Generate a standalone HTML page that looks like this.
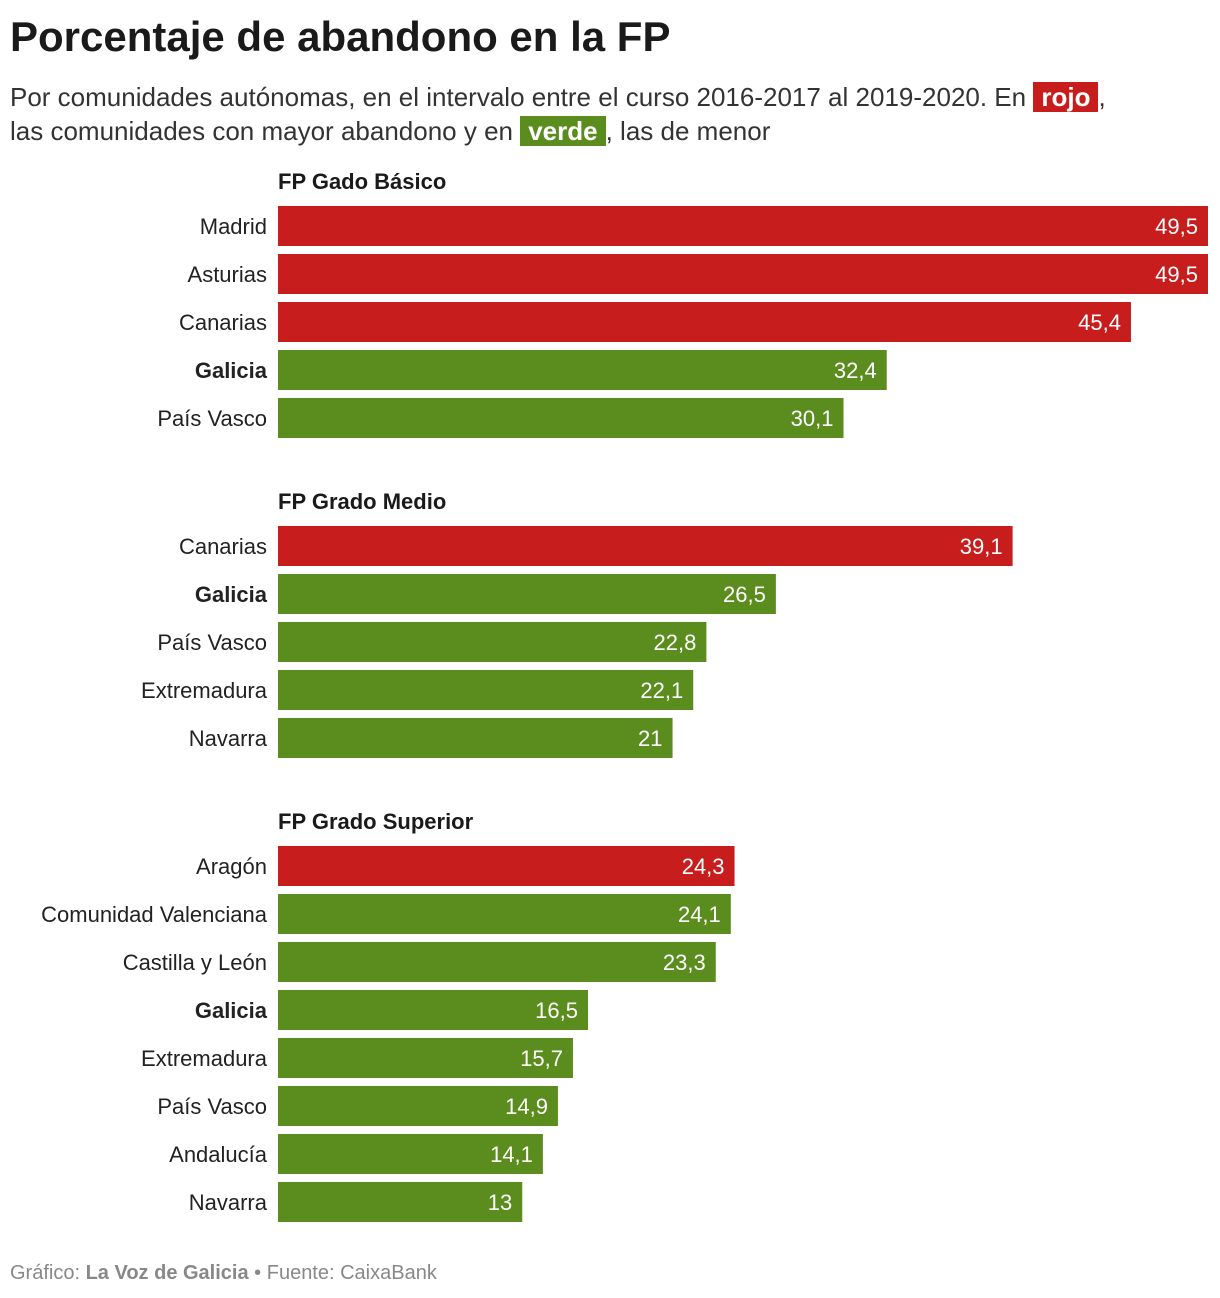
<!DOCTYPE html>
<html><head><meta charset="utf-8">
<style>
body{margin:0;background:#fff;width:1220px;height:1298px;overflow:hidden;font-family:"Liberation Sans",sans-serif;color:#222}
h1{position:absolute;left:10px;top:13px;margin:0;font-size:42px;font-weight:bold;letter-spacing:0px;color:#1a1a1a}
.sub{position:absolute;left:10px;top:80px;margin:0;font-size:26px;line-height:34px;color:#333;width:1210px;white-space:nowrap}
.hl{color:#fff;font-weight:bold;padding:0 8px}
.foot{position:absolute;left:10px;top:1262px;font-size:20px;color:#888}
svg{position:absolute;left:0;top:0}
</style></head><body>
<h1>Porcentaje de abandono en la FP</h1>
<p class="sub">Por comunidades autónomas, en el intervalo entre el curso 2016-2017 al 2019-2020. En <span class="hl" style="background:#c71e1d">rojo</span>,<br>las comunidades con mayor abandono y en <span class="hl" style="background:#5b8c1e">verde</span>, las de menor</p>
<svg id="chart" width="1220" height="1298"></svg>
<div class="foot">Gráfico: <b>La Voz de Galicia</b> • Fuente: CaixaBank</div>
<script>
const groupTitles = ["FP Gado Básico","FP Grado Medio","FP Grado Superior"];
const cats1 = ["Madrid","Asturias","Canarias","Galicia","País Vasco"];
const vals1 = [49.5,49.5,45.4,32.4,30.1];
const red1 = [1,1,1,0,0];
const cats2 = ["Canarias","Galicia","País Vasco","Extremadura","Navarra"];
const vals2 = [39.1,26.5,22.8,22.1,21];
const red2 = [1,0,0,0,0];
const cats3 = ["Aragón","Comunidad Valenciana","Castilla y León","Galicia","Extremadura","País Vasco","Andalucía","Navarra"];
const vals3 = [24.3,24.1,23.3,16.5,15.7,14.9,14.1,13];
const red3 = [1,0,0,0,0,0,0,0];

const svg=document.getElementById('chart');
const NS='http://www.w3.org/2000/svg';
const x0=278, xMax=49.5, xW=930;
const xs=v=>v/xMax*xW;
function mk(t,a){const e=document.createElementNS(NS,t);for(const k in a)e.setAttribute(k,a[k]);svg.appendChild(e);return e;}
const groups=[[cats1,vals1,red1],[cats2,vals2,red2],[cats3,vals3,red3]];
const groupTops=[206,526,846];
groups.forEach((g,gi)=>{
  const top=groupTops[gi];
  const t=mk('text',{x:x0,y:top-17,'font-size':22,'font-weight':'bold',fill:'#1a1a1a'});
  t.textContent=groupTitles[gi];
  
  
  g[0].forEach((c,i)=>{
    const y=top+i*48;
    const r=mk('rect',{x:x0,y:y,width:xs(g[1][i]),height:40,fill:g[2][i]?'#c71e1d':'#5b8c1e'});
    
    
    const l=mk('text',{x:x0-11,y:y+28,'font-size':22,'text-anchor':'end',fill:'#222','font-weight':c==='Galicia'?'bold':'normal'});
    l.textContent=c;
    
    
    const v=mk('text',{x:x0+xs(g[1][i])-10,y:y+28,'font-size':22,'text-anchor':'end',fill:'#fff'});
    v.textContent=String(g[1][i]).replace('.',',');
    
    
  });
});
</script>
</body></html>
